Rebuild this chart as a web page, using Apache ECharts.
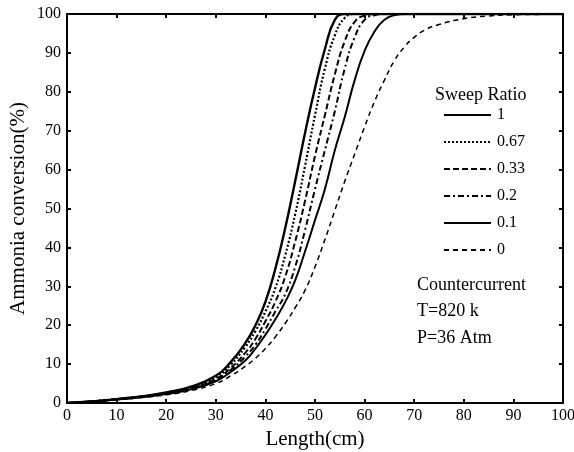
<!DOCTYPE html>
<html>
<head>
<meta charset="utf-8">
<script src="https://cdn.jsdelivr.net/npm/echarts@6/dist/echarts.min.js"></script>
<style>
  html, body { margin: 0; padding: 0; background: #fff; }
  #chart { width: 574px; height: 452px; }
</style>
</head>
<body>
<div id="chart"></div>
<script>
// Reactor length (cm) sampling points shared by every curve
const lengthCm = [0, 5, 10, 15, 20, 25, 30, 33, 36, 38, 40, 42, 44, 46, 48, 50, 52, 54, 56, 58, 60, 62, 64, 66, 68, 70, 72, 75, 80, 85, 90, 95, 100];

// Ammonia conversion (%) for each sweep ratio
const conv_1    = [0, 0.4, 1.0, 1.7, 2.7, 4.2, 7.0, 10.5, 15.5, 20, 26, 34.5, 45, 57, 69.5, 81, 91, 98.5, 100, 100, 100, 100, 100, 100, 100, 100, 100, 100, 100, 100, 100, 100, 100];
const conv_067  = [0, 0.4, 1.0, 1.7, 2.6, 4.0, 6.6, 9.8, 14.5, 18.5, 23.5, 29.5, 38, 48.5, 61, 74, 86, 94.5, 99, 100, 100, 100, 100, 100, 100, 100, 100, 100, 100, 100, 100, 100, 100];
const conv_033  = [0, 0.4, 1.0, 1.6, 2.5, 3.8, 6.2, 9.0, 13, 16.5, 21, 26, 32.5, 41.5, 52, 63.5, 74, 84.5, 93, 98, 99.6, 100, 100, 100, 100, 100, 100, 100, 100, 100, 100, 100, 100];
const conv_02   = [0, 0.4, 0.9, 1.6, 2.4, 3.7, 5.9, 8.5, 12, 15, 19, 23.5, 28, 35, 44.5, 55, 65, 75, 86, 94, 98.5, 99.7, 100, 100, 100, 100, 100, 100, 100, 100, 100, 100, 100];
const conv_01   = [0, 0.4, 0.9, 1.5, 2.3, 3.5, 5.6, 8, 11, 14, 17.5, 21.5, 26, 31.5, 39, 47, 55, 65, 73.5, 83, 90.5, 95.5, 98.5, 99.7, 100, 100, 100, 100, 100, 100, 100, 100, 100];
const conv_0    = [0, 0.35, 0.85, 1.4, 2.1, 3.2, 5.0, 7.0, 9.5, 11.5, 14, 17, 20.5, 24.5, 29, 35, 42, 49.5, 57, 64, 71, 77.5, 83, 88, 91.5, 94, 95.8, 97.3, 98.8, 99.5, 99.8, 99.9, 100];

const sweepLabels = ['1', '0.67', '0.33', '0.2', '0.1', '0'];
const xTicks = [0, 100, 10];
const yTicks = [0, 100, 10];

const FONT = '"Liberation Serif", "DejaVu Serif", serif';

function pairs(vals) {
  return lengthCm.map((x, i) => [x, vals[i]]);
}

const styles = [
  { width: 2.4, type: 'solid' },
  { width: 2.2, type: [2, 2] },
  { width: 2.0, type: [6, 3] },
  { width: 2.0, type: [6, 3, 2, 3] },
  { width: 2.0, type: 'solid' },
  { width: 1.5, type: [5, 4] }
];
const allData = [conv_1, conv_067, conv_033, conv_02, conv_01, conv_0];

const series = allData.map((vals, i) => ({
  name: sweepLabels[i],
  type: 'line',
  xAxisIndex: 0,
  yAxisIndex: 0,
  data: pairs(vals),
  symbol: 'none',
  smooth: 0.5,
  lineStyle: { color: '#000', width: styles[i].width, type: styles[i].type },
  itemStyle: { color: '#000' },
  animation: false
}));

const baseAxis = {
  type: 'value',
  axisLine: { show: true, onZero: false, lineStyle: { color: '#000', width: 2 } },
  axisTick: { show: true, inside: true, length: 4, lineStyle: { color: '#000', width: 2 } },
  splitLine: { show: false }
};

const chart = echarts.init(document.getElementById('chart'), null, { renderer: 'canvas' });
chart.setOption({
  backgroundColor: '#fff',
  animation: false,
  grid: { left: 67, right: 11, top: 14, bottom: 49, containLabel: false, outerBoundsMode: 'none' },
  xAxis: [
    Object.assign({}, baseAxis, {
      position: 'bottom', min: xTicks[0], max: xTicks[1], interval: xTicks[2],
      axisLabel: { color: '#000', fontFamily: FONT, fontSize: 16, margin: 5 },
      name: 'Length(cm)', nameLocation: 'middle', nameGap: 23,
      nameTextStyle: { color: '#000', fontFamily: FONT, fontSize: 21 }
    }),
    Object.assign({}, baseAxis, {
      position: 'top', min: xTicks[0], max: xTicks[1], interval: xTicks[2],
      axisLabel: { show: false }
    })
  ],
  yAxis: [
    Object.assign({}, baseAxis, {
      position: 'left', min: yTicks[0], max: yTicks[1], interval: yTicks[2],
      axisLabel: { color: '#000', fontFamily: FONT, fontSize: 16, margin: 6 },
      name: 'Ammonia conversion(%)', nameLocation: 'middle', nameGap: 38,
      nameMoveOverlap: false,
      nameTextStyle: { color: '#000', fontFamily: FONT, fontSize: 21 }
    }),
    Object.assign({}, baseAxis, {
      position: 'right', min: yTicks[0], max: yTicks[1], interval: yTicks[2],
      axisLabel: { show: false }
    })
  ],
  legend: {
    data: sweepLabels,
    orient: 'vertical',
    left: 443,
    top: 107,
    padding: 0,
    itemWidth: 47,
    itemHeight: 14,
    itemGap: 11,
    itemStyle: { opacity: 0 },
    textStyle: { color: '#000', fontFamily: FONT, fontSize: 16, padding: [0, 0, 0, 1] },
    selectedMode: false
  },
  graphic: [
    { type: 'text', left: 435, top: 86, style: { text: 'Sweep Ratio', fill: '#000', font: '18px ' + FONT } },
    { type: 'text', left: 417, top: 276, style: { text: 'Countercurrent', fill: '#000', font: '18px ' + FONT } },
    { type: 'text', left: 417, top: 302, style: { text: 'T=820 k', fill: '#000', font: '18px ' + FONT } },
    { type: 'text', left: 417, top: 329, style: { text: 'P=36 Atm', fill: '#000', font: '18px ' + FONT } }
  ],
  series: series
});
</script>
</body>
</html>
